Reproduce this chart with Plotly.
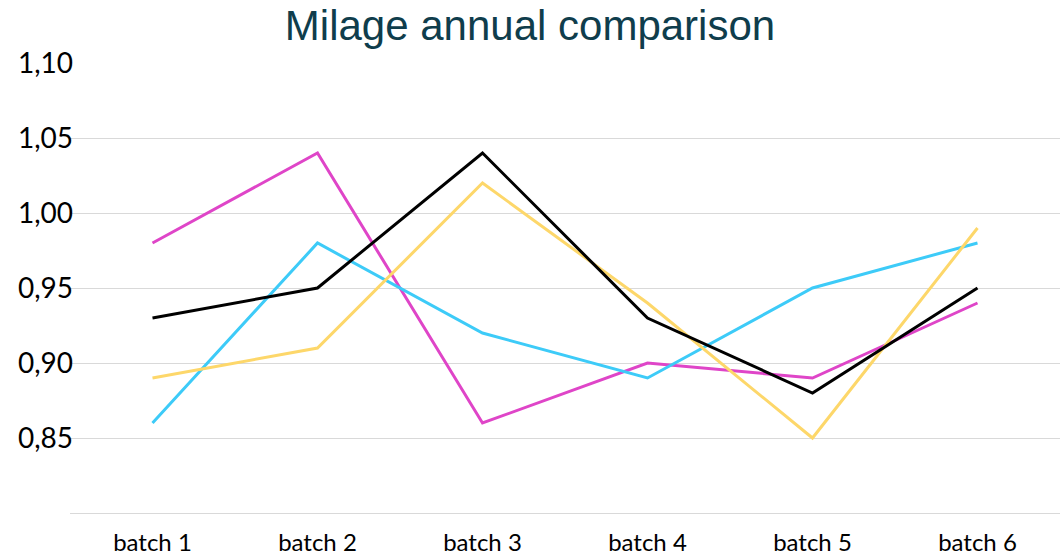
import plotly.graph_objects as go

categories = ["batch 1", "batch 2", "batch 3", "batch 4", "batch 5", "batch 6"]
series_magenta = [0.98, 1.04, 0.86, 0.90, 0.89, 0.94]
series_cyan = [0.86, 0.98, 0.92, 0.89, 0.95, 0.98]
series_yellow = [0.89, 0.91, 1.02, 0.94, 0.85, 0.99]
series_black = [0.93, 0.95, 1.04, 0.93, 0.88, 0.95]

y_tickvals = [0.85, 0.90, 0.95, 1.00, 1.05, 1.10]
y_ticktext = ["0,85", "0,90", "0,95", "1,00", "1,05", "1,10"]

series = [
    ("Series 1", series_magenta, "#df45c8"),
    ("Series 2", series_cyan, "#3dcbf8"),
    ("Series 3", series_yellow, "#fdd76a"),
    ("Series 4", series_black, "#000000"),
]

fig = go.Figure()
for name, vals, col in series:
    fig.add_trace(go.Scatter(x=categories, y=vals, mode="lines", name=name,
                             line=dict(color=col, width=3)))

W, H = 1061, 556
fig.update_layout(
    width=W, height=H,
    margin=dict(l=70, r=1, t=63, b=43, autoexpand=False),
    paper_bgcolor="white", plot_bgcolor="white",
    showlegend=False,
    title=dict(text="Milage annual comparison", x=530 / W, xanchor="center",
               y=1 - 25 / H, yanchor="middle", yref="container",
               font=dict(family="Liberation Sans, Arial", size=42, color="#0f3d4c")),
    font=dict(family="Lato, Open Sans, sans-serif", color="#000000"),
)
fig.update_xaxes(range=[-0.5, 5.5], showgrid=False, showline=True,
                 linecolor="#d9d9d9", linewidth=1, automargin=False,
                 ticks="", tickfont=dict(size=24, family="Lato"),
                 ticklabelstandoff=8, zeroline=False)
fig.update_yaxes(range=[0.80, 1.10], tickvals=y_tickvals, ticktext=y_ticktext,
                 showgrid=True, gridcolor="#d9d9d9", gridwidth=1, zeroline=False,
                 automargin=False,
                 ticks="", tickfont=dict(size=28, family="Lato"),
                 ticklabelstandoff=-4, showline=False)

fig.write_html(
    "out.html",
    config={"displayModeBar": False},
    post_script="document.body.style.margin='0';document.body.style.overflow='hidden';",
)
